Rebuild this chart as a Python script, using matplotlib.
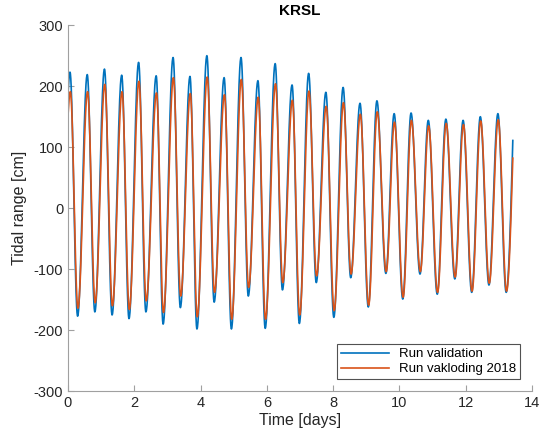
import numpy as np
import matplotlib
matplotlib.use("Agg")
import matplotlib.pyplot as plt

plt.rcParams['font.family'] = ['Liberation Sans', 'DejaVu Sans']
plt.rcParams['axes.unicode_minus'] = False

# times of high / low water [days]
t_high = [0.06, 0.58, 1.10, 1.62, 2.13, 2.66, 3.17, 3.68, 4.19, 4.71, 5.22, 5.73, 6.25,
          6.76, 7.26, 7.78, 8.30, 8.81, 9.32, 9.84, 10.35, 10.87, 11.40, 11.92, 12.44, 12.97]
t_low = [0.29, 0.81, 1.33, 1.84, 2.35, 2.87, 3.39, 3.89, 4.41, 4.93, 5.44, 5.95, 6.47,
         6.98, 7.49, 8.02, 8.53, 9.06, 9.59, 10.10, 10.62, 11.14, 11.67, 12.18, 12.70, 13.22]
t_start = 0.0
t_end = 13.42

# Run validation [cm]
val_high = [223, 219, 228, 218, 239, 217, 247, 216, 250, 214, 247, 209, 237,
            202, 221, 190, 198, 172, 176, 155, 156, 144, 146, 144, 150, 155]
val_low = [-177, -170, -175, -181, -170, -190, -163, -198, -154, -198, -144, -197, -134,
           -189, -122, -179, -114, -162, -107, -149, -108, -141, -116, -138, -126, -138]
val_start, val_end = 188, 111

# Run vakloding 2018 [cm]
vak_high = [191, 191, 203, 191, 208, 189, 214, 188, 215, 186, 211, 182, 204,
            177, 192, 167, 173, 154, 158, 141, 144, 135, 139, 137, 143, 145]
vak_low = [-164, -155, -160, -166, -152, -171, -144, -178, -138, -182, -130, -182, -122,
           -175, -111, -168, -108, -159, -104, -146, -104, -138, -113, -136, -123, -136]
vak_start, vak_end = 152, 82
vak_lag = 0.01


def tide_curve(hi, lo, h0, h1, lag=0.0, n=40):
    # join the read extremes with smooth half-cosine segments
    tt = [t_start]
    hh = [h0]
    nodes_t, nodes_h = [], []
    for a, b, c, d in zip(t_high, hi, t_low, lo):
        nodes_t += [a + lag, c + lag]
        nodes_h += [b, d]
    # first partial rise
    s = np.linspace(0, 1, n)[1:]
    tt += list(t_start + (nodes_t[0] - t_start) * s)
    hh += list(h0 + (nodes_h[0] - h0) * np.sin(np.pi / 2 * s))
    for i in range(len(nodes_t) - 1):
        tt += list(nodes_t[i] + (nodes_t[i + 1] - nodes_t[i]) * s)
        hh += list(nodes_h[i] + (nodes_h[i + 1] - nodes_h[i]) * (1 - np.cos(np.pi * s)) / 2)
    # last partial rise
    tt += list(nodes_t[-1] + (t_end - nodes_t[-1]) * s)
    hh += list(nodes_h[-1] + (h1 - nodes_h[-1]) * (1 - np.cos(np.pi / 2 * s)))
    return np.array(tt), np.array(hh)


fig = plt.figure(figsize=(5.44, 4.42), dpi=100)
ax = fig.add_axes([0.125, 0.115, 0.853, 0.828])

tv, hv = tide_curve(val_high, val_low, val_start, val_end)
tk, hk = tide_curve(vak_high, vak_low, vak_start, vak_end, lag=vak_lag)
ax.plot(tv, hv, color='#0072BD', lw=1.2, label='Run validation')
ax.plot(tk, hk, color='#D95319', lw=1.2, label='Run vakloding 2018')

ax.set_xlim(0, 14)
ax.set_ylim(-300, 300)
ax.set_xticks(range(0, 15, 2))
ax.set_yticks(range(-300, 301, 100))
for side in ['top', 'right']:
    ax.spines[side].set_visible(False)
for side in ['left', 'bottom']:
    ax.spines[side].set_color('#a0a0a0')
ax.tick_params(direction='in', length=4, color='#a0a0a0', labelcolor='#262626', labelsize=10.5)

ax.set_title('KRSL', fontsize=11, fontweight='bold', color='black', pad=7)
ax.set_xlabel('Time [days]', fontsize=11.5, color='#262626', labelpad=2)
ax.set_ylabel('Tidal range [cm]', fontsize=11.5, color='#262626', labelpad=5)

leg = ax.legend(loc='lower right', fontsize=9.5, frameon=True, fancybox=False,
                edgecolor='#262626', borderaxespad=0.9, handlelength=3.6,
                borderpad=0.3, labelspacing=0.2)
leg.get_frame().set_linewidth(0.8)

fig.savefig('out.png', dpi=100)
